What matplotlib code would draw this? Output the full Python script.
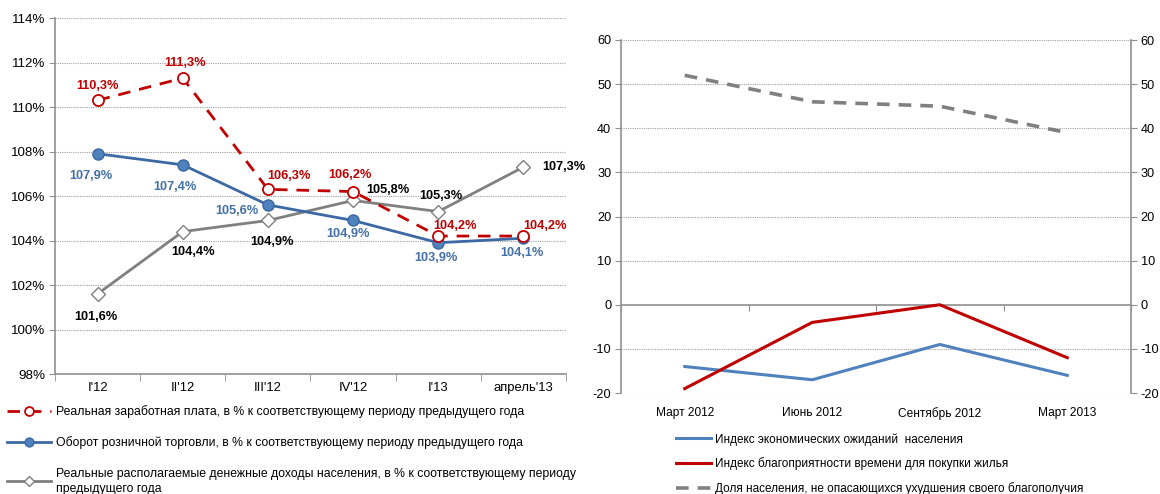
import matplotlib.pyplot as plt
from matplotlib.ticker import FixedLocator

plt.rcParams['font.family'] = ['Liberation Sans', 'DejaVu Sans']
plt.rcParams['font.size'] = 8.2
plt.rcParams['axes.unicode_minus'] = False

# left panel: year-on-year growth, %
periods = ["I'12", "II'12", "III'12", "IV'12", "I'13", "апрель'13"]
wages = [110.3, 111.3, 106.3, 106.2, 104.2, 104.2]
retail = [107.9, 107.4, 105.6, 104.9, 103.9, 104.1]
incomes = [101.6, 104.4, 104.9, 105.8, 105.3, 107.3]

wages_name = "Реальная заработная плата, в % к соответствующему периоду предыдущего года"
retail_name = "Оборот розничной торговли, в % к соответствующему периоду предыдущего года"
incomes_name = ("Реальные располагаемые денежные доходы населения, в % к соответствующему периоду\n"
                "предыдущего года")

# right panel: consumer sentiment indices
surveys = ["Март 2012", "Июнь 2012", "Сентябрь 2012", "Март 2013"]
expectations = [-14, -17, -9, -16]
housing = [-19, -4, 0, -12]
not_afraid = [52, 46, 45, 39]

expectations_name = "Индекс экономических ожиданий  населения"
housing_name = "Индекс благоприятности времени для покупки жилья"
not_afraid_name = "Доля населения, не опасающихся ухудшения своего благополучия"

RED = '#C00000'
BLUE = '#3C68A3'
BLUE_FILL = '#4F81BD'
GRAY = '#808080'
AXIS = '#909090'

fig = plt.figure(figsize=(11.6, 4.94), dpi=100)

# ---------- left chart ----------
ax = fig.add_axes([55 / 1160, 1 - 374 / 494, 511 / 1160, 356 / 494])
x = list(range(len(periods)))

ax.plot(x, wages, color=RED, lw=2, ls=(0, (4.5, 3.2)), marker='o', ms=8,
        mfc='white', mec=RED, mew=1.3, zorder=4, label=wages_name)
ax.plot(x, retail, color=BLUE, lw=2, marker='o', ms=8,
        mfc=BLUE_FILL, mec=BLUE, mew=1, zorder=3, label=retail_name)
ax.plot(x, incomes, color=GRAY, lw=2, marker='D', ms=7,
        mfc='white', mec=GRAY, mew=1, zorder=2, label=incomes_name)

ax.set_xlim(-0.5, len(periods) - 0.5)
ax.set_ylim(98, 114)
ax.set_yticks(range(98, 115, 2))
ax.set_yticklabels([f"{v}%" for v in range(98, 115, 2)], fontsize=9.6)
ax.set_xticks(x)
ax.set_xticklabels(periods, fontsize=9.4)
ax.xaxis.set_minor_locator(FixedLocator([i - 0.5 for i in range(len(periods) + 1)]))
ax.tick_params(axis='x', which='major', length=0, pad=6)
ax.tick_params(axis='x', which='minor', length=5, color=AXIS)
ax.tick_params(axis='y', length=4, color=AXIS, pad=3)
ax.grid(axis='y', color='#A0A0A0', ls=(0, (1, 1)), lw=0.8)
for s in ['top', 'right']:
    ax.spines[s].set_visible(False)
for s in ['left', 'bottom']:
    ax.spines[s].set_color(AXIS)
    ax.spines[s].set_linewidth(1.2)


def pct(v):
    return f"{v:.1f}%".replace('.', ',')


wage_off = [(0, 14), (2, 15), (21, 13), (-3, 17), (17, 10), (22, 10)]
retail_off = [(-7, -22), (-8, -22), (-31, -6), (-5, -14), (-2, -15), (-1, -15)]
incomes_off = [(-2, -23), (10, -20), (4, -22), (35, 10), (3, 16), (40, 0)]

for vals, offs, col in [(wages, wage_off, RED), (retail, retail_off, '#4470A8'),
                        (incomes, incomes_off, 'black')]:
    for i, (v, off) in enumerate(zip(vals, offs)):
        ax.annotate(pct(v), (i, v), xytext=off, textcoords='offset pixels',
                    ha='center', va='center', fontsize=9.2, fontweight='bold',
                    color=col, zorder=6)

leg = fig.legend(*ax.get_legend_handles_labels(), loc='upper left',
                 bbox_to_anchor=(0.006, 1 - 405 / 494), frameon=False,
                 handlelength=3.6, handletextpad=0.45, labelspacing=1.5,
                 fontsize=8.8, borderpad=0, borderaxespad=0, markerscale=0.8)
leg.get_texts()[2].set_linespacing(1.35)

# ---------- right chart ----------
bx = fig.add_axes([621 / 1160, 1 - 393 / 494, 510 / 1160, 353 / 494])
xs = list(range(len(surveys)))

bx.plot(xs, expectations, color=BLUE_FILL, lw=2.2, label=expectations_name, zorder=3)
bx.plot(xs, housing, color=RED, lw=2.2, label=housing_name, zorder=3)
bx.plot(xs, not_afraid, color=GRAY, lw=2.6, ls=(0, (3.5, 2.5)), label=not_afraid_name, zorder=3)

bx.set_xlim(-0.5, len(surveys) - 0.5)
bx.set_ylim(-20, 60)
bx.set_yticks(range(-20, 61, 10))
bx.set_xticks(xs)
bx.set_xticklabels(surveys, fontsize=8.6)
bx.tick_params(axis='x', length=0, pad=10)
bx.tick_params(axis='y', length=4, color=AXIS, labelsize=9.2, pad=3)
bx.grid(axis='y', color='#A0A0A0', ls=(0, (1, 1)), lw=0.8)
for s in ['top', 'bottom', 'right']:
    bx.spines[s].set_visible(False)
bx.spines['left'].set_color(AXIS)
bx.spines['left'].set_linewidth(1.2)

# category axis crosses at zero
zero_pos = (0 - (-20)) / 80
zx = bx.secondary_xaxis(zero_pos)
zx.set_xticks([i - 0.5 for i in range(len(surveys) + 1)])
zx.set_xticklabels([])
zx.tick_params(length=4, color=AXIS, direction='out')
zx.spines['bottom'].set_color(AXIS)
zx.spines['bottom'].set_linewidth(1.2)

tw = bx.twinx()
tw.set_ylim(bx.get_ylim())
tw.set_yticks(range(-20, 61, 10))
tw.tick_params(axis='y', length=4, color=AXIS, labelsize=9.2, pad=3)
for s in ['top', 'bottom', 'left']:
    tw.spines[s].set_visible(False)
tw.spines['right'].set_color(AXIS)
tw.spines['right'].set_linewidth(1.2)

fig.legend(*bx.get_legend_handles_labels(), loc='upper left',
           bbox_to_anchor=(676 / 1160, 1 - 433 / 494), frameon=False,
           handlelength=3.0, handletextpad=0.3, labelspacing=1.0,
           fontsize=8.5, borderpad=0, borderaxespad=0)

fig.savefig('out.png', dpi=100)
